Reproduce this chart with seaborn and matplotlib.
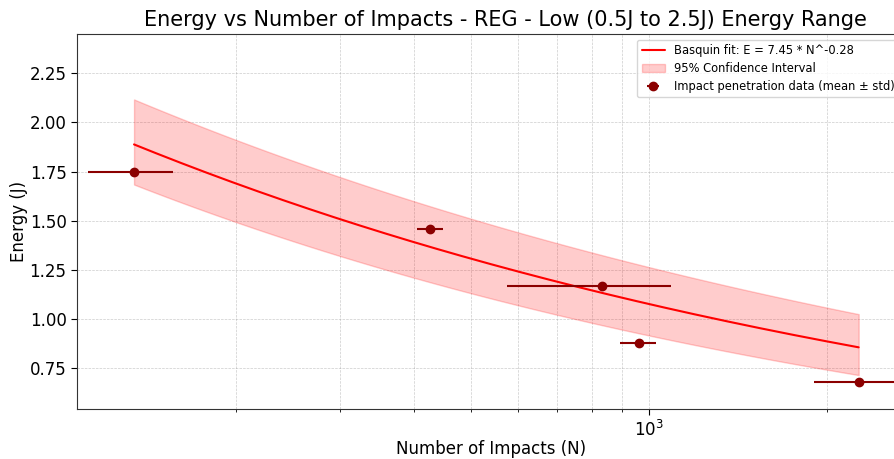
import numpy as np
import pandas as pd
import matplotlib
matplotlib.use("Agg")
import matplotlib.pyplot as plt
import seaborn as sns

# ---- data ----
impacts_mean = [134.5, 426, 833, 962, 2264]
impacts_std = [22, 21.5, 258, 67, 362]
energy = [1.75, 1.46, 1.17, 0.88, 0.68]

# Basquin fit parameters (from legend) and their estimated covariance (log-space)
fit_a = 7.45
fit_b = -0.28
var_ln_a = 0.00156
var_b = 0.000581
cov_ln_a_b = -0.00025
z95 = 1.0

sns.set_style("white")
plt.rcParams['font.family'] = ['DejaVu Sans']
plt.rcParams['text.color'] = 'black'
plt.rcParams['axes.labelcolor'] = 'black'
plt.rcParams['xtick.color'] = 'black'
plt.rcParams['ytick.color'] = 'black'

fig = plt.figure(figsize=(8.94, 4.59), dpi=100)
ax = fig.add_axes([77 / 894, (459 - 409) / 459, (905 - 77) / 894, (409 - 34) / 459])

n_fit = np.logspace(np.log10(min(impacts_mean)), np.log10(max(impacts_mean)), 200)
e_fit = fit_a * n_fit ** fit_b
ln_n = np.log(n_fit)
half = z95 * np.sqrt(var_ln_a + var_b * ln_n ** 2 + 2 * cov_ln_a_b * ln_n)
lower = e_fit * np.exp(-half)
upper = e_fit * np.exp(half)

fit_df = pd.DataFrame({"N": n_fit, "E": e_fit})
ax.fill_between(n_fit, lower, upper, color="red", alpha=0.2, linewidth=1,
                label="95% Confidence Interval", zorder=1)
sns.lineplot(data=fit_df, x="N", y="E", color="red", linewidth=1.5, ax=ax,
             label=f"Basquin fit: E = {fit_a} * N^{fit_b}", zorder=2)
ax.errorbar(impacts_mean, energy, xerr=impacts_std, fmt="o", color="darkred",
            markersize=6, elinewidth=1.5, capsize=0,
            label="Impact penetration data (mean ± std)", zorder=3)

ax.set_xscale("log")
ax.set_xlim(107.7, 2712)
ax.set_ylim(0.543, 2.45)
ax.set_yticks([0.75, 1.0, 1.25, 1.5, 1.75, 2.0, 2.25])
ax.yaxis.set_major_formatter(matplotlib.ticker.FormatStrFormatter('%.2f'))
ax.grid(True, which="both", linestyle="--", linewidth=0.5, color="#999999", alpha=0.5)
ax.tick_params(axis="both", which="major", labelsize=12, length=4, bottom=True, left=True)
ax.tick_params(axis="x", which="minor", length=2, bottom=True)
for s in ax.spines.values():
    s.set_color("#333333")

ax.set_xlabel("Number of Impacts (N)", fontsize=12, labelpad=0.5)
ax.set_ylabel("Energy (J)", fontsize=12, labelpad=1)
ax.set_title("Energy vs Number of Impacts - REG - Low (0.5J to 2.5J) Energy Range",
             fontsize=15, x=0.517)

h, l = ax.get_legend_handles_labels()
order = [l.index(f"Basquin fit: E = {fit_a} * N^{fit_b}"), l.index("95% Confidence Interval"),
         l.index("Impact penetration data (mean ± std)")]
ax.legend([h[i] for i in order], [l[i] for i in order], loc="upper right", fontsize=8.3,
          labelspacing=0.4, frameon=True)

fig.savefig("out.png", dpi=100)
